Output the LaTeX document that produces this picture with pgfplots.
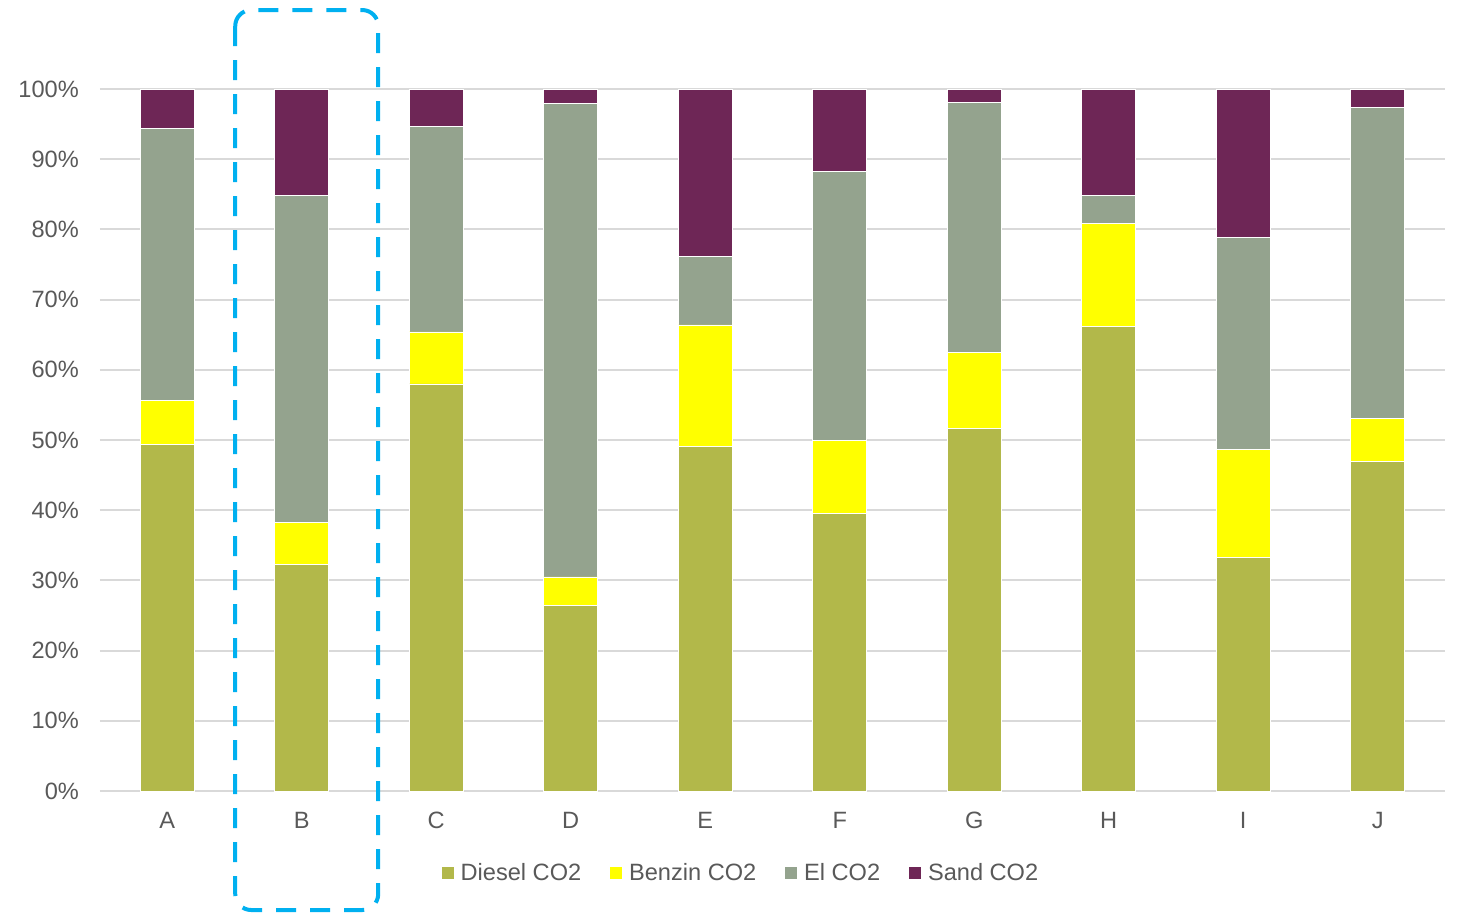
\documentclass[border=0pt]{standalone}
\usepackage{pgfplots}
\pgfplotsset{compat=1.18}
\usepackage{fontspec}
\setmainfont{Liberation Sans}
\definecolor{diesel}{HTML}{B2B84A}
\definecolor{benzin}{HTML}{FFFF00}
\definecolor{el}{HTML}{94A38E}
\definecolor{sand}{HTML}{6E2656}
\definecolor{gridc}{HTML}{D9D9D9}
\definecolor{txt}{HTML}{595959}
\definecolor{annot}{HTML}{00B0F0}
\begin{document}
\begin{tikzpicture}
\begin{axis}[
  scale only axis, width=672.5pt, height=351pt,
  ybar stacked, bar width=27pt,
  xmin=-0.5, xmax=9.5, ymin=0, ymax=100,
  xtick={0,1,2,3,4,5,6,7,8,9},
  xticklabels={A,B,C,D,E,F,G,H,I,J},
  ytick={0,10,...,100},
  yticklabel={\pgfmathprintnumber{\tick}\%},
  /pgf/number format/assume math mode=true,
  ymajorgrids, grid style={gridc, line width=1pt},
  separate axis lines,
  axis x line*=bottom, axis y line*=left,
  x axis line style={gridc, line width=1pt, -},
  y axis line style={draw=none},
  major tick length=0pt,
  tick label style={font=\fontsize{11.8}{14}\selectfont, text=txt},
  yticklabel style={xshift=-7pt},
  xticklabel style={yshift=-7pt},
  clip=false,
  legend style={at={(rel axis cs:0.477,-0.117)}, anchor=center, draw=none,
    font=\fontsize{11.8}{14}\selectfont, text=txt,
    /tikz/every even column/.append style={column sep=12pt},
    /tikz/every odd column/.append style={column sep=1.2pt}},
  legend columns=4,
  legend image code/.code={\fill[#1] (0pt,-3.2pt) rectangle (6.4pt,3.2pt);},
]
\addplot[fill=diesel, draw=white, line width=0.3pt] coordinates {(0,49.4) (1,32.3) (2,58.0) (3,26.4) (4,49.1) (5,39.5) (6,51.6) (7,66.2) (8,33.3) (9,46.9)};
\addplot[fill=benzin, draw=white, line width=0.3pt] coordinates {(0,6.2) (1,6.0) (2,7.4) (3,4.1) (4,17.3) (5,10.5) (6,10.9) (7,14.6) (8,15.4) (9,6.2)};
\addplot[fill=el, draw=white, line width=0.3pt] coordinates {(0,38.8) (1,46.6) (2,29.3) (3,67.4) (4,9.7) (5,38.3) (6,35.6) (7,4.1) (8,30.2) (9,44.3)};
\addplot[fill=sand, draw=white, line width=0.3pt] coordinates {(0,5.6) (1,15.1) (2,5.3) (3,2.1) (4,23.9) (5,11.7) (6,1.9) (7,15.1) (8,21.1) (9,2.6)};
\legend{Diesel CO2, Benzin CO2, El CO2, Sand CO2}
\draw[annot, line width=2pt, dash pattern=on 10pt off 7pt, rounded corners=8pt]
  (axis cs:0.506,111.25) rectangle (axis cs:1.569,-16.95);
\coordinate (bl) at (rel axis cs:-0.0743,-0.178);
\coordinate (tr) at (rel axis cs:1.00967,1.1268);
\end{axis}
\pgfresetboundingbox
\useasboundingbox (bl) rectangle (tr);
\end{tikzpicture}
\end{document}
